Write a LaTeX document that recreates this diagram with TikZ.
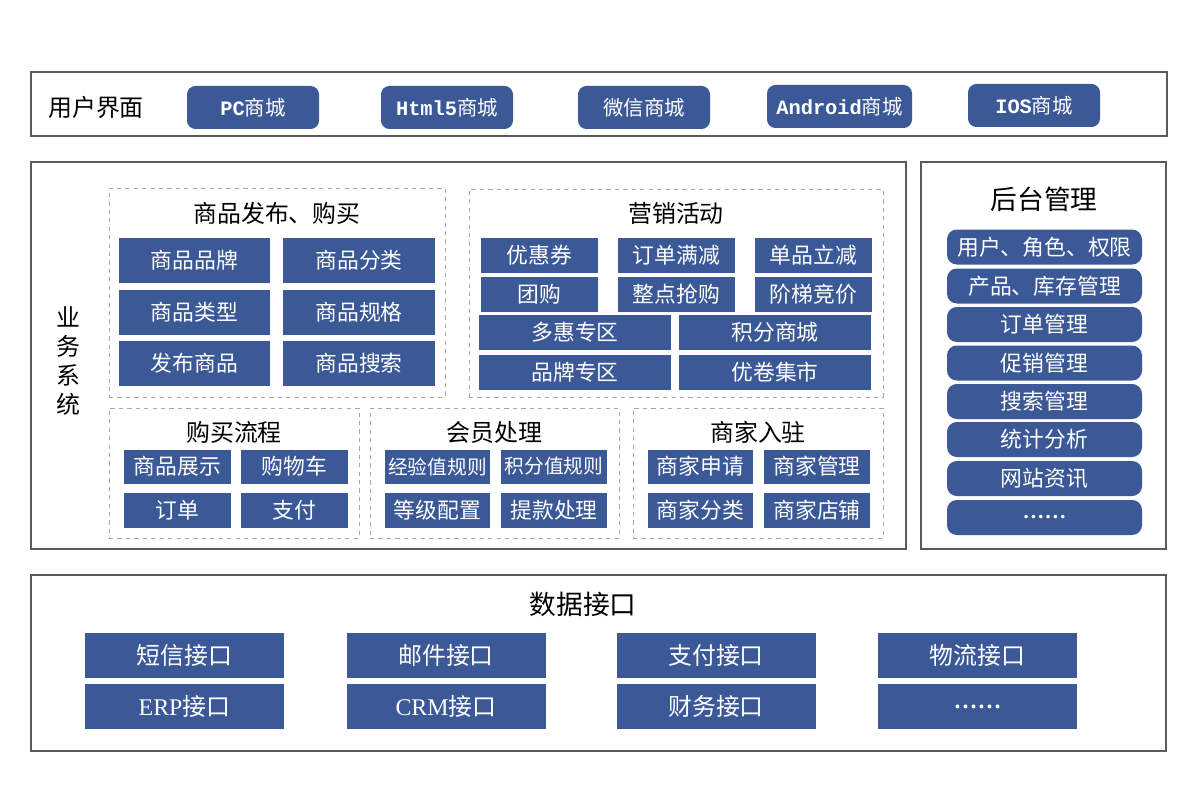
\documentclass[tikz,border=0pt]{standalone}
\usepackage{fontspec}
\setmainfont{Noto Sans CJK SC}
\newfontfamily\monofont{Liberation Mono}
\newfontfamily\latinserif{Liberation Serif}
\usepackage{xcolor}
\usepackage{tikz}
\definecolor{boxblue}{HTML}{3B5897}
\definecolor{framegray}{HTML}{5A5A5A}

\begin{document}
\begin{tikzpicture}[
  x=0.025cm, y=-0.025cm,
  sz/.style 2 args={minimum width=#1*0.025cm, minimum height=#2*0.025cm},
  panel/.style={draw=framegray, line width=0.8pt, inner sep=0pt},
  group/.style={draw=gray!70, dashed, line width=0.6pt, inner sep=0pt},
  blk/.style={fill=boxblue, text=white, inner sep=0pt, font=\fontsize{15.5}{18}\selectfont},
  btn/.style={blk, sz={132}{43}, rounded corners=6pt, font=\fontsize{14.5}{17}\selectfont},
  pill/.style={blk, sz={195}{35}, rounded corners=7pt},
  api/.style={blk, sz={199}{45}, font=\fontsize{17}{20}\selectfont},
  title/.style={font=\fontsize{17}{20}\selectfont},
  bigtitle/.style={font=\fontsize{19}{22}\selectfont}
]
  \useasboundingbox (0,0) rectangle (1200,800);

  % Panels
  \node[panel, sz={1136}{64}] (ui) at (599,104) {};
  \node[panel, sz={875}{387}] (biz) at (468.5,355.5) {};
  \node[panel, sz={245}{387}] (admin) at (1043.5,355.5) {};
  \node[panel, sz={1135}{176}] (data) at (598.5,663) {};

  % User interface
  \node[title] (uititle) at (96,107) {用户界面};
  \node[btn] (pc) at (253,107.5) {{\monofont\bfseries PC}商城};
  \node[btn] (html) at (447,107.5) {{\monofont\bfseries Html5}商城};
  \node[btn] (wx) at (644,107.5) {微信商城};
  \node[btn, sz={145}{43}] (android) at (839.5,106.5) {{\monofont\bfseries Android}商城};
  \node[btn] (ios) at (1034,105.5) {{\monofont\bfseries IOS}商城};

  % Business system
  \node[title, align=center, font=\fontsize{17}{20.6}\selectfont] (biztitle) at (68,361) {业\\务\\系\\统};

  \node[group, sz={336}{209}] (publish) at (277,292.5) {};
  \node[title] (pubtitle) at (277,213) {商品发布、购买};
  \node[blk, sz={151}{45}] (brand) at (194.5,260.5) {商品品牌};
  \node[blk, sz={152}{45}] (cat) at (359,260.5) {商品分类};
  \node[blk, sz={151}{45}] (kind) at (194.5,312.5) {商品类型};
  \node[blk, sz={152}{45}] (spec) at (359,312.5) {商品规格};
  \node[blk, sz={151}{45}] (post) at (194.5,363.5) {发布商品};
  \node[blk, sz={152}{45}] (search) at (359,363.5) {商品搜索};

  \node[group, sz={414}{208}] (promo) at (676,293) {};
  \node[title] (promotitle) at (676,213) {营销活动};
  \node[blk, sz={117}{35}] (coupon) at (539.5,255.5) {优惠券};
  \node[blk, sz={117}{35}] (minus) at (676.5,255.5) {订单满减};
  \node[blk, sz={117}{35}] (single) at (813.5,255.5) {单品立减};
  \node[blk, sz={117}{35}] (group) at (539.5,294.5) {团购};
  \node[blk, sz={117}{35}] (flash) at (676.5,294.5) {整点抢购};
  \node[blk, sz={117}{35}] (ladder) at (813.5,294.5) {阶梯竞价};
  \node[blk, sz={192}{35}] (multi) at (575,332.5) {多惠专区};
  \node[blk, sz={192}{35}] (points) at (775,332.5) {积分商城};
  \node[blk, sz={192}{35}] (brandzone) at (575,372.5) {品牌专区};
  \node[blk, sz={192}{35}] (market) at (775,372.5) {优卷集市};

  \node[group, sz={250}{130}] (buy) at (234,473) {};
  \node[title] (buytitle) at (234,432) {购买流程};
  \node[blk, sz={107}{34}] (show) at (177.5,466.5) {商品展示};
  \node[blk, sz={107}{34}] (cart) at (294.5,466.5) {购物车};
  \node[blk, sz={107}{35}] (order) at (177.5,510.5) {订单};
  \node[blk, sz={107}{35}] (pay) at (294.5,510.5) {支付};

  \node[group, sz={249}{130}] (member) at (494.5,473) {};
  \node[title] (membertitle) at (494.5,432) {会员处理};
  \node[blk, sz={105}{34}, font=\fontsize{14}{17}\selectfont] (exp) at (437.5,466.5) {经验值规则};
  \node[blk, sz={106}{34}, font=\fontsize{14}{17}\selectfont] (score) at (554,466.5) {积分值规则};
  \node[blk, sz={105}{35}] (level) at (437.5,510.5) {等级配置};
  \node[blk, sz={106}{35}] (cash) at (554,510.5) {提款处理};

  \node[group, sz={250}{130}] (seller) at (758,473) {};
  \node[title] (sellertitle) at (758,432) {商家入驻};
  \node[blk, sz={105}{34}] (apply) at (700.5,466.5) {商家申请};
  \node[blk, sz={106}{34}] (manage) at (817,466.5) {商家管理};
  \node[blk, sz={105}{35}] (sort) at (700.5,510.5) {商家分类};
  \node[blk, sz={106}{35}] (shop) at (817,510.5) {商家店铺};

  % Back office
  \node[bigtitle] (admintitle) at (1044,199) {后台管理};
  \node[pill] (users) at (1044.5,247) {用户、角色、权限};
  \node[pill] (stock) at (1044.5,286) {产品、库存管理};
  \node[pill] (orders) at (1044.5,324.5) {订单管理};
  \node[pill] (sales) at (1044.5,363) {促销管理};
  \node[pill] (find) at (1044.5,401.5) {搜索管理};
  \node[pill] (stats) at (1044.5,439.5) {统计分析};
  \node[pill] (news) at (1044.5,478.5) {网站资讯};
  \node[pill] (more) at (1044.5,517.5) {{\latinserif\bfseries ……}};

  % Data interfaces
  \node[bigtitle] (datatitle) at (583,604) {数据接口};
  \node[api] (sms) at (184.5,655.5) {短信接口};
  \node[api] (mail) at (446,655.5) {邮件接口};
  \node[api] (payapi) at (716,655.5) {支付接口};
  \node[api] (ship) at (977.5,655.5) {物流接口};
  \node[api] (erp) at (184.5,706.5) {{\latinserif ERP}接口};
  \node[api] (crm) at (446,706.5) {{\latinserif CRM}接口};
  \node[api] (fin) at (716,706.5) {财务接口};
  \node[api] (etc) at (977.5,706.5) {{\latinserif\bfseries ……}};
\end{tikzpicture}
\end{document}
